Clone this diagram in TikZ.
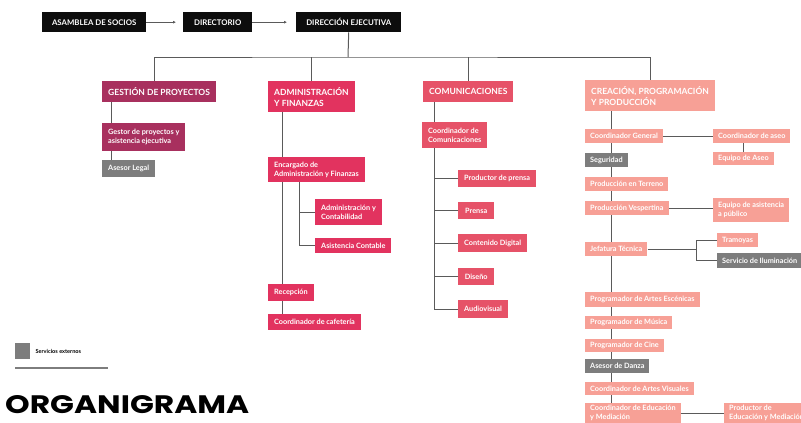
\documentclass[tikz,border=0pt]{standalone}
\usepackage{fontspec}
\setmainfont{Lato}
\newfontfamily\titlefont{Poppins}
\usepackage{graphicx}
\usetikzlibrary{arrows.meta, positioning}

\definecolor{dirblack}{HTML}{0D0D0D}
\definecolor{gpcolor}{HTML}{A8305E}
\definecolor{afcolor}{HTML}{E2335F}
\definecolor{cocolor}{HTML}{E65268}
\definecolor{cpcolor}{HTML}{F7A096}
\definecolor{extgray}{HTML}{7D7D7D}
\definecolor{linkgray}{HTML}{5A5A5A}

\begin{document}
\begin{tikzpicture}[x=1pt, y=-1pt,
    org node/.style={anchor=north west, text=white, inner xsep=6pt, inner ysep=2pt, align=left, font=\bfseries\fontsize{7.3}{9}\selectfont},
    top node/.style={org node, fill=dirblack, minimum height=20pt, inner xsep=5pt, font=\bfseries\fontsize{7.8}{9}\selectfont},
    area node/.style={org node, font=\bfseries\fontsize{8.5}{11}\selectfont},
    cp node/.style={org node, fill=cpcolor, inner xsep=5pt, minimum height=14pt},
    link/.style={draw=linkgray, line width=1pt}]
    \useasboundingbox (0,0) rectangle (801,423);

    \node[top node, minimum width=104pt] (asamblea) at (42,12) {ASAMBLEA DE SOCIOS};
    \node[top node, minimum width=69pt] (directorio) at (183,12) {DIRECTORIO};
    \node[top node, minimum width=105pt] (direccion) at (296,12) {DIRECCIÓN EJECUTIVA};

    \node[area node, fill=gpcolor, minimum height=21pt] (gestion) at (102,81) {GESTIÓN DE PROYECTOS};
    \node[area node, fill=afcolor, minimum height=31pt] (adminfin) at (268,81) {ADMINISTRACIÓN\\Y FINANZAS};
    \node[area node, fill=cocolor, minimum height=21pt] (comunic) at (423,81) {COMUNICACIONES};
    \node[area node, fill=cpcolor, minimum height=31pt] (creacion) at (585,80) {CREACIÓN, PROGRAMACIÓN\\Y PRODUCCIÓN};

    % gestion de proyectos
    \node[org node, fill=gpcolor, minimum height=28pt] (gestor) at (102,123) {Gestor de proyectos y\\asistencia ejecutiva};
    \node[org node, fill=extgray, minimum height=17pt] (asesorlegal) at (102,160) {Asesor Legal};

    % administracion y finanzas
    \node[org node, fill=afcolor, minimum height=25pt] (encargado) at (268,157) {Encargado de\\Administración y Finanzas};
    \node[org node, fill=afcolor, minimum height=26pt] (admcont) at (315,199) {Administración y\\Contabilidad};
    \node[org node, fill=afcolor, minimum height=15pt] (asistcont) at (315,238) {Asistencia Contable};
    \node[org node, fill=afcolor, minimum height=17pt] (recepcion) at (268,284) {Recepción};
    \node[org node, fill=afcolor, minimum height=16pt] (cafeteria) at (268,314) {Coordinador de cafetería};

    % comunicaciones
    \node[org node, fill=cocolor, minimum height=26pt] (coordcom) at (422,122) {Coordinador de\\Comunicaciones};
    \node[org node, fill=cocolor, minimum height=17pt] (prodprensa) at (458,170) {Productor de prensa};
    \node[org node, fill=cocolor, minimum height=17pt, minimum width=36pt] (prensa) at (458,202) {Prensa};
    \node[org node, fill=cocolor, minimum height=18pt] (contenido) at (458,234) {Contenido Digital};
    \node[org node, fill=cocolor, minimum height=17pt, minimum width=36pt] (diseno) at (458,268) {Diseño};
    \node[org node, fill=cocolor, minimum height=18pt] (audiovisual) at (458,300) {Audiovisual};

    % creacion, programacion y produccion
    \node[cp node] (coordgen) at (585,129) {Coordinador General};
    \node[cp node] (coordaseo) at (713,129) {Coordinador de aseo};
    \node[cp node, minimum height=13pt] (equipoaseo) at (713,152) {Equipo de Aseo};
    \node[cp node, fill=extgray] (seguridad) at (585,153) {Seguridad};
    \node[cp node] (prodterreno) at (585,177) {Producción en Terreno};
    \node[cp node] (prodvesp) at (585,201) {Producción Vespertina};
    \node[cp node, minimum height=24pt] (equipoasist) at (713,198) {Equipo de asistencia\\a público};
    \node[cp node] (jefatura) at (585,242) {Jefatura Técnica};
    \node[cp node] (tramoyas) at (717,233) {Tramoyas};
    \node[cp node, fill=extgray, minimum height=15pt] (iluminacion) at (717,253) {Servicio de Iluminación};
    \node[cp node, minimum height=15pt] (artesesc) at (585,292) {Programador de Artes Escénicas};
    \node[cp node, minimum height=13pt] (musica) at (585,316) {Programador de Música};
    \node[cp node, minimum height=13pt] (cine) at (585,339) {Programador de Cine};
    \node[cp node, fill=extgray] (danza) at (585,359) {Asesor de Danza};
    \node[cp node, minimum height=13pt] (artesvis) at (585,382) {Coordinador de Artes Visuales};
    \node[cp node, minimum height=20pt, inner ysep=1pt] (educacion) at (585,403) {Coordinador de Educación\\y Mediación};
    \node[cp node, minimum height=20pt, inner ysep=1pt] (prodeduc) at (724,403) {Productor de\\Educación y Mediación};

    % top line
    \draw[link, -{Latex[length=3pt, width=3pt]}, shorten >=7pt] (asamblea.east) -- (directorio.west);
    \draw[link, -{Latex[length=3pt, width=3pt]}, shorten >=9pt] (directorio.east) -- (direccion.west);

    \coordinate (bus) at (348,57);
    \draw[link] (direccion.south) -- (bus);
    \draw[link] ([xshift=-5pt]gestion.north) |- (bus) -| (creacion.north);
    \draw[link] (adminfin.north) -- (adminfin.north |- bus);
    \draw[link] (comunic.north) -- (comunic.north |- bus);

    \coordinate (gpx) at (111,0);
    \draw[link] (gestion.south -| gpx) -- (gestor.north -| gpx);
    \draw[link] (gestor.south -| gpx) -- (asesorlegal.north -| gpx);

    \coordinate (afx) at (282,0);
    \coordinate (afsub) at (299,0);
    \draw[link] (adminfin.south -| afx) -- (encargado.north -| afx);
    \draw[link] (encargado.south -| afx) -- (recepcion.north -| afx);
    \draw[link] (recepcion.south -| afx) -- (cafeteria.north -| afx);
    \draw[link] (encargado.south -| afsub) |- (asistcont.west);
    \draw[link] (admcont.west) -- (admcont.west -| afsub);

    \coordinate (cox) at (434,0);
    \draw[link] (comunic.south -| cox) -- (coordcom.north -| cox);
    \draw[link] (coordcom.south -| cox) |- (audiovisual.west);
    \draw[link] (prodprensa.west) -- (prodprensa.west -| cox);
    \draw[link] (prensa.west) -- (prensa.west -| cox);
    \draw[link] (contenido.west) -- (contenido.west -| cox);
    \draw[link] (diseno.west) -- (diseno.west -| cox);

    \coordinate (cpx) at (611,0);
    \draw[link] (creacion.south -| cpx) -- (coordgen.north -| cpx);
    \draw[link] (coordgen.south -| cpx) -- (seguridad.north -| cpx);
    \draw[link] (seguridad.south -| cpx) -- (prodterreno.north -| cpx);
    \draw[link] (prodterreno.south -| cpx) -- (prodvesp.north -| cpx);
    \draw[link] (prodvesp.south -| cpx) -- (jefatura.north -| cpx);
    \draw[link] (jefatura.south -| cpx) -- (artesesc.north -| cpx);
    \draw[link] (artesesc.south -| cpx) -- (musica.north -| cpx);
    \draw[link] (musica.south -| cpx) -- (cine.north -| cpx);
    \draw[link] (cine.south -| cpx) -- (danza.north -| cpx);
    \draw[link] (danza.south -| cpx) -- (artesvis.north -| cpx);
    \draw[link] (artesvis.south -| cpx) -- (educacion.north -| cpx);
    \draw[link] (coordgen.east) -- (coordaseo.west);
    \draw[link] (coordaseo.south -| equipoaseo.north) -- (equipoaseo.north);
    \draw[link] (prodvesp.east) -- (prodvesp.east -| equipoasist.west);
    \coordinate (ctfork) at (696,0);
    \draw[link] (jefatura.east) -- (jefatura.east -| ctfork);
    \draw[link] (tramoyas.west) -| (ctfork |- iluminacion.west) -- (iluminacion.west);
    \draw[link] (educacion.east) -- (educacion.east -| prodeduc.west);

    % legend and title
    \node[fill=extgray, minimum width=15pt, minimum height=16pt, inner sep=0pt, anchor=north west] (extkey) at (15,343) {};
    \node[right=4pt of extkey, inner sep=1pt, font=\bfseries\fontsize{5.6}{7}\selectfont] (extlabel) {Servicios externos};
    \draw[extgray, line width=1.5pt] (15,368) -- (108,368);
    \node[anchor=north west, inner sep=0pt] (title) at (5,395) {\resizebox{244pt}{18pt}{\titlefont\bfseries ORGANIGRAMA}};
\end{tikzpicture}
\end{document}
